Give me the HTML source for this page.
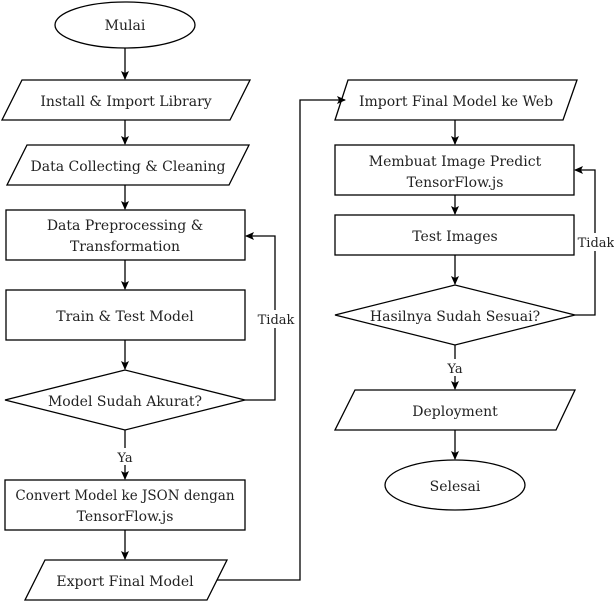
<!DOCTYPE html>
<html><head><meta charset="utf-8"><style>
html,body{margin:0;padding:0;background:#fff;}
svg{display:block;}
svg text{font-family:"DejaVu Serif","Liberation Serif",serif;font-size:14px;fill:#222;}
</style></head><body>
<svg width="614" height="601" viewBox="0 0 614 601" xmlns="http://www.w3.org/2000/svg">
<defs><marker id="a" markerWidth="10" markerHeight="10" refX="8" refY="5" orient="auto" markerUnits="userSpaceOnUse"><path d="M0,1 L9,5 L0,9 L2,5 Z" fill="#000"/></marker></defs>
<g fill="#fff" stroke="#000" stroke-width="1.3">
<ellipse cx="125" cy="25" rx="70" ry="23"/>
<polygon points="22,80 250,80 230,120 2,120"/>
<polygon points="27,145 249,145 229,185 7,185"/>
<rect x="6" y="210" width="239" height="50"/>
<rect x="6" y="290" width="239" height="50"/>
<polygon points="5,400 125,370 245,400 125,430"/>
<rect x="5" y="480" width="240" height="50"/>
<polygon points="45,560 227,560 207,600 25,600"/>
<polygon points="348,80 577,80 563,120 335,120"/>
<rect x="335" y="145" width="239" height="50"/>
<rect x="335" y="215" width="239" height="40"/>
<polygon points="335,315 455,285 575,315 455,345"/>
<polygon points="355,390 575,390 556,430 335,430"/>
<ellipse cx="455" cy="485" rx="70" ry="25"/>
</g>
<g fill="none" stroke="#000" stroke-width="1.3" marker-end="url(#a)">
<line x1="125" y1="48" x2="125" y2="79"/>
<line x1="125" y1="120" x2="125" y2="144"/>
<line x1="125" y1="185" x2="125" y2="209"/>
<line x1="125" y1="260" x2="125" y2="289"/>
<line x1="125" y1="340" x2="125" y2="369"/>
<line x1="125" y1="430" x2="125" y2="479"/>
<line x1="125" y1="530" x2="125" y2="559"/>
<polyline points="245,400 275,400 275,236 246,236"/>
<polyline points="217,580 300,580 300,100 345,100"/>
<line x1="455" y1="120" x2="455" y2="144"/>
<line x1="455" y1="195" x2="455" y2="214"/>
<line x1="455" y1="255" x2="455" y2="284"/>
<line x1="455" y1="345" x2="455" y2="389"/>
<line x1="455" y1="430" x2="455" y2="459"/>
<polyline points="575,315 595,315 595,170 575,170"/>
</g>
<rect x="258" y="310" width="36" height="18" fill="#fff"/>
<rect x="578" y="233" width="36" height="18" fill="#fff"/>
<rect x="115" y="448" width="20" height="17" fill="#fff"/>
<rect x="445" y="359" width="20" height="17" fill="#fff"/>
<g text-anchor="middle">
<text x="125" y="30">Mulai</text>
<text x="126" y="106">Install &amp; Import Library</text>
<text x="128" y="171">Data Collecting &amp; Cleaning</text>
<text x="125" y="230">Data Preprocessing &amp;</text>
<text x="125" y="251">Transformation</text>
<text x="125" y="321">Train &amp; Test Model</text>
<text x="125" y="406">Model Sudah Akurat?</text>
<text x="125" y="462" style="font-size:13px">Ya</text>
<text x="125" y="500" style="font-size:13.5px">Convert Model ke JSON dengan</text>
<text x="125" y="521">TensorFlow.js</text>
<text x="125" y="586">Export Final Model</text>
<text x="276" y="324" style="font-size:13px">Tidak</text>
<text x="456" y="106">Import Final Model ke Web</text>
<text x="455" y="166">Membuat Image Predict</text>
<text x="455" y="187">TensorFlow.js</text>
<text x="455" y="241">Test Images</text>
<text x="455" y="321">Hasilnya Sudah Sesuai?</text>
<text x="455" y="373" style="font-size:13px">Ya</text>
<text x="596" y="247" style="font-size:13px">Tidak</text>
<text x="455" y="416">Deployment</text>
<text x="455" y="491">Selesai</text>
</g>
</svg>
</body></html>
